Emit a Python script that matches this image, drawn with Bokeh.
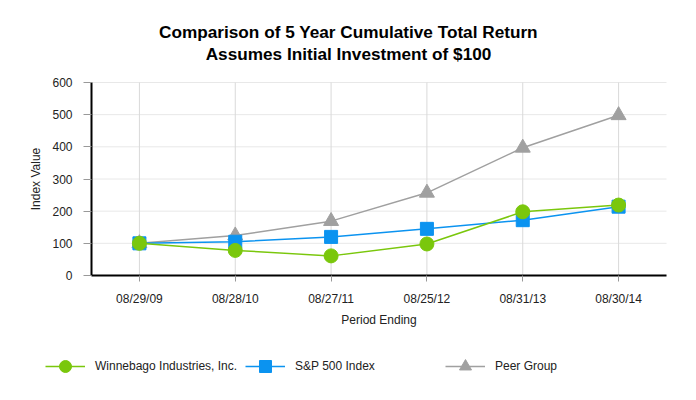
from bokeh.plotting import figure
from bokeh.models import (Range1d, FixedTicker, LinearAxis, Label, Legend, LegendItem,
                          ColumnDataSource, Grid)
from bokeh.embed import file_html
from bokeh.resources import INLINE

# ---- data ----
periods = ["08/29/09", "08/28/10", "08/27/11", "08/25/12", "08/31/13", "08/30/14"]
winnebago = [100, 78, 61, 98, 198, 219]
sp500 = [100, 105, 120, 145, 172, 214]
peer = [100, 124, 169, 257, 397, 498]
y_ticks = [0, 100, 200, 300, 400, 500, 600]
series_names = ["Winnebago Industries, Inc.", "S&P 500 Index", "Peer Group"]
title_lines = ["Comparison of 5 Year Cumulative Total Return", "Assumes Initial Investment of $100"]
x_title = "Period Ending"
y_title = "Index Value"

# ---- layout (pixels) ----
W, H = 680, 384
LEFT, RIGHT, TOP, BOTTOM = 91, 666, 82, 275   # plot area edges

FONT = "Liberation Sans"
GREEN = "#7ac70c"
BLUE = "#0b93f0"
GRAY = "#a0a0a0"
TXT = "#222222"

n = len(periods)
idx = list(range(n))
u = (RIGHT - LEFT) / n
x_start = -0.5 - LEFT / u
x_end = x_start + W / u
ymax = y_ticks[-1]
k = (BOTTOM - TOP) / ymax
y_start = -(H - BOTTOM) / k
y_end = ymax + TOP / k

p = figure(width=W, height=H, x_range=Range1d(x_start, x_end), y_range=Range1d(y_start, y_end),
           output_backend="svg", toolbar_location=None, x_axis_location=None,
           y_axis_location=None, min_border=0)
p.min_border_left = p.min_border_right = p.min_border_top = p.min_border_bottom = 0
p.outline_line_color = None
# drop the default full-width grids; grid lines are drawn within the plot area below
p.center = [r for r in p.center if not isinstance(r, Grid)]

xticker = FixedTicker(ticks=idx)
yticker = FixedTicker(ticks=y_ticks)

# grid lines limited to the plot area
p.segment(x0=[-0.5] * len(y_ticks), y0=y_ticks, x1=[n - 0.5] * len(y_ticks), y1=y_ticks,
          line_color="#e8e8e8", line_width=1)
p.segment(x0=idx, y0=[y_ticks[0]] * n, x1=idx, y1=[y_ticks[-1]] * n,
          line_color="#d9d9d9", line_width=1)

src = ColumnDataSource(dict(x=idx, w=winnebago, s=sp500, g=peer))
styles = [
    ("w", GREEN, "circle", 14),
    ("s", BLUE, "square", 13),
    ("g", GRAY, "triangle", 15),
]
rends = {}
for col, color, marker, size in reversed(styles):
    rl = p.line("x", col, source=src, line_color=color, line_width=1.5)
    rm = p.scatter("x", col, source=src, marker=marker, size=size, fill_color=color, line_color=color)
    rends[col] = [rl, rm]

# axes
def style_axis(ax):
    ax.axis_line_color = "black"
    ax.axis_line_width = 2
    ax.major_tick_line_color = "#999999"
    ax.major_tick_in = 0
    ax.minor_tick_line_color = None
    ax.major_label_text_font = FONT
    ax.major_label_text_font_size = "12px"
    ax.major_label_text_color = TXT
    ax.axis_label_text_font = FONT
    ax.axis_label_text_font_size = "12px"
    ax.axis_label_text_font_style = "normal"
    ax.axis_label_text_color = TXT

xaxis = LinearAxis(ticker=xticker, fixed_location=0, bounds=(-0.5, n - 0.5),
                   major_label_overrides={i: lab for i, lab in zip(idx, periods)},
                   axis_label=x_title)
style_axis(xaxis)
xaxis.major_tick_out = 6
xaxis.major_label_standoff = 10
xaxis.axis_label_standoff = 4
p.add_layout(xaxis, "below")

yaxis = LinearAxis(ticker=yticker, fixed_location=-0.5, bounds=(y_ticks[0], y_ticks[-1]),
                   axis_label=y_title)
style_axis(yaxis)
yaxis.major_tick_out = 8
yaxis.major_label_standoff = 11
yaxis.axis_label_standoff = 6
p.add_layout(yaxis, "left")

# titles
for line, base in zip(title_lines, [31, 53]):
    p.add_layout(Label(x=348, y=H - base, x_units="screen", y_units="screen", text=line,
                       text_align="center", text_baseline="alphabetic", text_font=FONT,
                       text_font_size="17.2px", text_font_style="bold", text_color="black"))

# legend
items = [LegendItem(label=name, renderers=rends[col]) for name, (col, *_r) in zip(series_names, styles)]
legend = Legend(items=items, orientation="horizontal", location=(45, 3), glyph_width=40,
                glyph_height=30, label_standoff=10, label_width=150, spacing=0, padding=0, margin=0,
                border_line_color=None, background_fill_alpha=0,
                label_text_font=FONT, label_text_font_size="12px", label_text_color=TXT)
p.add_layout(legend, "center")

open("out.html", "w").write(file_html(p, INLINE))
